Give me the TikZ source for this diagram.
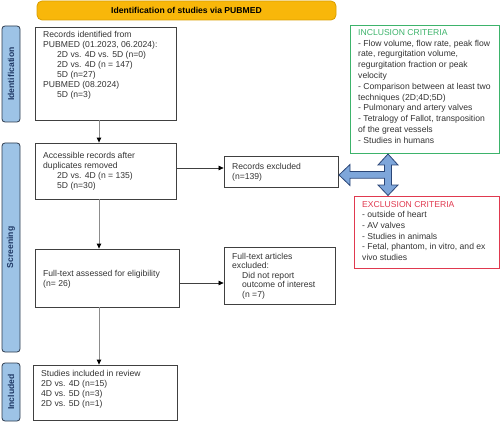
\documentclass[tikz,border=0pt]{standalone}
\usepackage{fontspec}
\setmainfont{Liberation Sans}
\usetikzlibrary{arrows.meta}
\definecolor{txtc}{HTML}{333333}
\definecolor{boxline}{HTML}{404040}
\definecolor{hdrfill}{HTML}{F8B70A}
\definecolor{hdrline}{HTML}{D99E00}
\definecolor{sidefill}{HTML}{9DC3E6}
\definecolor{sideline}{HTML}{2E3B4E}
\definecolor{sidetxt}{HTML}{1F3864}
\definecolor{incl}{HTML}{3DB36B}
\definecolor{excl}{HTML}{E0394F}
\definecolor{bigfill}{HTML}{7EA6DA}
\definecolor{bigline}{HTML}{2B4677}
\definecolor{arrline}{HTML}{8C8C8C}
\begin{document}
\begin{tikzpicture}[x=1pt,y=-1pt,
  box/.style={draw=boxline, line width=0.8pt, inner sep=0pt},
  tx/.style={anchor=north west, inner sep=0pt, align=left, text=txtc,
    font=\fontsize{8.6}{10}\selectfont},
  side/.style={draw=sideline, fill=sidefill, line width=0.8pt, rounded corners=3pt,
    inner sep=0pt, minimum width=18pt},
  sidelab/.style={rotate=90, text=sidetxt, font=\fontsize{8.6}{9}\selectfont\bfseries},
  arr/.style={draw=arrline, line width=0.9pt, -{Triangle[length=5pt,width=4.5pt,color=black]}},
  harr/.style={draw=boxline, line width=0.6pt, -{Triangle[length=5pt,width=4.5pt,color=black]}},
]
\useasboundingbox (0,0) rectangle (500,422);

% header
\node[draw=hdrline, fill=hdrfill, line width=0.8pt, rounded corners=5pt,
  minimum width=299pt, minimum height=19pt, inner sep=0pt,
  font=\fontsize{8.6}{9}\selectfont\bfseries] (hdr) at (186.5,10.5)
  {Identification of studies via PUBMED};

% side bars
\node[side, minimum height=96pt] (s1) at (11,74) {};
\node[sidelab] (s1l) at (s1.center) {Identification};
\node[side, minimum height=209pt] (s2) at (11,247.5) {};
\node[sidelab] (s2l) at (s2.center) {Screening};
\node[side, minimum height=58pt] (s3) at (11,392) {};
\node[sidelab] (s3l) at (s3.center) {Included};

% main boxes
\node[box, minimum width=141pt, minimum height=93pt] (b1) at (105.5,73.5) {};
\node[tx] (t1) at (43,31) {Records identified from\\PUBMED (01.2023, 06.2024):\\
  \hspace*{14pt}2D vs. 4D vs. 5D (n=0)\\\hspace*{14pt}2D vs. 4D (n = 147)\\
  \hspace*{14pt}5D (n=27)\\PUBMED (08.2024)\\\hspace*{14pt}5D (n=3)};

\node[box, minimum width=141pt, minimum height=56pt] (b2) at (105.5,171) {};
\node[tx] (t2) at (43,152) {Accessible records after\\duplicates removed\\
  \hspace*{14pt}2D vs. 4D (n = 135)\\\hspace*{14pt}5D (n=30)};

\node[box, minimum width=144pt, minimum height=58pt] (b3) at (107,278) {};
\node[tx] (t3) at (43,270) {Full-text assessed for eligibility\\(n= 26)};

\node[box, minimum width=144pt, minimum height=55pt] (b4) at (105,392.5) {};
\node[tx] (t4) at (41,370) {Studies included in review\\2D vs. 4D (n=15)\\4D vs. 5D (n=3)\\2D vs. 5D (n=1)};

% excluded boxes
\node[box, minimum width=114pt, minimum height=31pt] (rex) at (281,171.5) {};
\node[tx] (trex) at (232,163) {Records excluded\\(n=139)};

\node[box, minimum width=111pt, minimum height=57pt] (fex) at (279.5,275.5) {};
\node[tx, font=\fontsize{8.6}{9.5}\selectfont] (tfex) at (232,253) {Full-text articles\\excluded:\\
  \hspace*{10pt}Did not report\\\hspace*{10pt}outcome of interest\\\hspace*{10pt}(n =7)};

% criteria boxes
\node[draw=incl, line width=0.8pt, minimum width=149pt, minimum height=128pt, inner sep=0pt] (inc) at (424.5,89) {};
\node[tx, font=\fontsize{8.6}{10.8}\selectfont] (tinc) at (358,29) {\textcolor{incl}{INCLUSION CRITERIA}\\
  - Flow volume, flow rate, peak flow\\rate, regurgitation volume,\\regurgitation fraction or peak\\velocity\\
  - Comparison between at least two\\techniques (2D;4D;5D)\\- Pulmonary and artery valves\\
  - Tetralogy of Fallot, transposition\\of the great vessels\\- Studies in humans};

\node[draw=excl, line width=0.8pt, minimum width=145pt, minimum height=72pt, inner sep=0pt] (exc) at (426.5,232) {};
\node[tx, font=\fontsize{8.6}{10.6}\selectfont] (texc) at (362,201) {\textcolor{excl}{EXCLUSION CRITERIA}\\
  - outside of heart\\- AV valves\\- Studies in animals\\- Fetal, phantom, in vitro, and ex\\vivo studies};

% block double arrow
\draw[fill=bigfill, draw=bigline, line width=0.8pt, line join=miter]
  (388,154) -- (398,165) -- (391.5,165) -- (391.5,185) -- (398,185) -- (388,195.5)
  -- (378,185) -- (384.5,185) -- (384.5,178.2) -- (350,178.2) -- (350,185.5)
  -- (339,175) -- (350,164.5) -- (350,171.6) -- (384.5,171.6) -- (384.5,165)
  -- (378,165) -- cycle;

% connectors
\coordinate (ax) at (99,0);
\draw[arr] (ax |- b1.south) -- (ax |- b2.north);
\draw[arr] (ax |- b2.south) -- (ax |- b3.north);
\draw[arr] (ax |- b3.south) -- (ax |- b4.north);
\coordinate (ay1) at (0,168);
\coordinate (ay2) at (0,283);
\draw[harr] (b2.east |- ay1) -- (rex.west |- ay1);
\draw[harr] (b3.east |- ay2) -- (fex.west |- ay2);
\end{tikzpicture}
\end{document}
